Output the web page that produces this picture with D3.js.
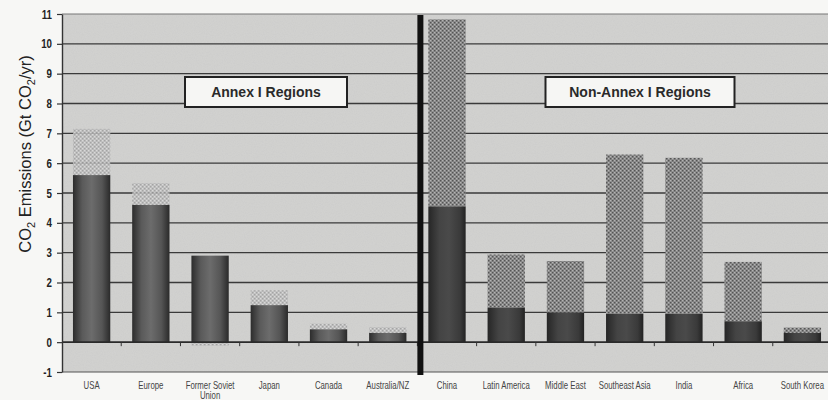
<!DOCTYPE html>
<html>
<head>
<meta charset="utf-8">
<script src="https://cdn.jsdelivr.net/npm/d3@7"></script>
<style>
  html, body { margin: 0; padding: 0; background: #f7f7f5; }
  svg { display: block; }
</style>
</head>
<body>
<svg id="chart" width="828" height="400"></svg>
<script>
// Regions, split into Annex I and Non-Annex I groups
const categories = ["USA", "Europe", "Former Soviet Union", "Japan", "Canada", "Australia/NZ",
  "China", "Latin America", "Middle East", "Southeast Asia", "India", "Africa", "South Korea"];
const annexCount = 6;
// Emissions base (solid dark part), Gt CO2/yr
const baseEmissions = [5.6, 4.6, 2.9, 1.24, 0.43, 0.31, 4.55, 1.16, 0.99, 0.95, 0.95, 0.70, 0.31];
// Projected increase (stippled part), Gt CO2/yr
const increase = [1.55, 0.73, -0.12, 0.5, 0.19, 0.19, 6.27, 1.78, 1.73, 5.34, 5.23, 1.99, 0.18];
const yTicks = [-1, 0, 1, 2, 3, 4, 5, 6, 7, 8, 9, 10, 11];
const groupLabels = ["Annex I Regions", "Non-Annex I Regions"];

const svg = d3.select("#chart");
const plot = { left: 62, right: 828, top: 14, bottom: 372 };

const x = d3.scaleBand().domain(categories).range([plot.left, 832]).paddingInner(0.37).paddingOuter(0.185);
const y = d3.scaleLinear().domain([-1, 11]).range([plot.bottom, plot.top]);

const defs = svg.append("defs");

// paper grain
const grain = defs.append("filter").attr("id", "grain").attr("x", 0).attr("y", 0).attr("width", 1).attr("height", 1);
grain.append("feTurbulence").attr("type", "fractalNoise").attr("baseFrequency", 0.9).attr("numOctaves", 2).attr("seed", 3).attr("result", "n");
grain.append("feColorMatrix").attr("in", "n").attr("type", "matrix")
  .attr("values", "0 0 0 0 0.5  0 0 0 0 0.5  0 0 0 0 0.5  0 0 0 0.28 0").attr("result", "g");
grain.append("feComposite").attr("in", "g").attr("in2", "SourceGraphic").attr("operator", "in").attr("result", "gi");
grain.append("feMerge").call(m => { m.append("feMergeNode").attr("in", "SourceGraphic"); m.append("feMergeNode").attr("in", "gi"); });

// cylinder-like shading for the solid bars
function shade(id, stops) {
  const g = defs.append("linearGradient").attr("id", id).attr("x1", 0).attr("x2", 1).attr("y1", 0).attr("y2", 0);
  stops.forEach(([o, c]) => g.append("stop").attr("offset", o).attr("stop-color", c));
}
shade("solidA", [[0, "#2c2c2c"], [0.25, "#5a5a5a"], [0.5, "#6c6c6c"], [0.78, "#555"], [1, "#2a2a2a"]]);
shade("solidN", [[0, "#262626"], [0.3, "#444"], [0.55, "#4a4a4a"], [0.85, "#3a3a3a"], [1, "#222"]]);

// stipple fills for the increase part
function stipple(id, bg, dark, light) {
  const p = defs.append("pattern").attr("id", id).attr("patternUnits", "userSpaceOnUse").attr("width", 4).attr("height", 4);
  p.append("rect").attr("width", 4).attr("height", 4).attr("fill", bg);
  p.append("rect").attr("x", 0).attr("y", 0).attr("width", 1.3).attr("height", 1.3).attr("fill", dark);
  p.append("rect").attr("x", 2).attr("y", 2).attr("width", 1.3).attr("height", 1.3).attr("fill", dark);
  p.append("rect").attr("x", 2).attr("y", 0).attr("width", 1.2).attr("height", 1.2).attr("fill", light);
  p.append("rect").attr("x", 0).attr("y", 2).attr("width", 1.2).attr("height", 1.2).attr("fill", light);
}
stipple("dotsA", "#bdbdbd", "#9c9c9c", "#dadada");
stipple("dotsN", "#8a8a8a", "#555", "#b4b4b4");

// plot background
svg.append("rect").attr("x", plot.left).attr("y", plot.top)
  .attr("width", plot.right - plot.left).attr("height", plot.bottom - plot.top)
  .attr("fill", "#d3d3d1").attr("filter", "url(#grain)");

// gridlines
svg.append("g").selectAll("line").data(yTicks.filter(t => t > 0 && t < 11)).join("line")
  .attr("x1", plot.left).attr("x2", plot.right)
  .attr("y1", d => y(d)).attr("y2", d => y(d))
  .attr("stroke", "#3a3a3a").attr("stroke-width", 1.4);
svg.append("line").attr("x1", plot.left).attr("x2", plot.right).attr("y1", y(11)).attr("y2", y(11))
  .attr("stroke", "#777").attr("stroke-width", 1);
svg.append("line").attr("x1", plot.left).attr("x2", plot.right).attr("y1", y(-1)).attr("y2", y(-1))
  .attr("stroke", "#555").attr("stroke-width", 1.2);

// bars
const rows = categories.map((c, i) => ({ c, i, base: baseEmissions[i], inc: increase[i], annex: i < annexCount }));
const bars = svg.append("g");
bars.selectAll("rect.inc").data(rows).join("rect").attr("class", "inc")
  .attr("x", d => x(d.c)).attr("width", x.bandwidth())
  .attr("y", d => d.inc >= 0 ? y(d.base + d.inc) : y(0))
  .attr("height", d => Math.abs(y(0) - y(d.inc)))
  .attr("fill", d => d.annex ? "url(#dotsA)" : "url(#dotsN)")
  .attr("opacity", d => d.annex ? 0.85 : 1);
bars.selectAll("rect.base").data(rows).join("rect").attr("class", "base")
  .attr("x", d => x(d.c)).attr("width", x.bandwidth())
  .attr("y", d => y(d.base)).attr("height", d => y(0) - y(d.base))
  .attr("fill", d => d.annex ? "url(#solidA)" : "url(#solidN)");

// zero axis with category ticks
svg.append("line").attr("x1", plot.left).attr("x2", plot.right).attr("y1", y(0)).attr("y2", y(0))
  .attr("stroke", "#2a2a2a").attr("stroke-width", 1.6);
svg.append("g").selectAll("line").data(categories.slice(1)).join("line")
  .attr("x1", d => x(d) - x.step() * x.paddingInner() / 2).attr("x2", d => x(d) - x.step() * x.paddingInner() / 2)
  .attr("y1", y(0)).attr("y2", y(0) + 4)
  .attr("stroke", "#333").attr("stroke-width", 1);

// y axis
const yAxis = svg.append("g").attr("transform", `translate(${plot.left},0)`)
  .call(d3.axisLeft(y).tickValues(yTicks).tickSize(5).tickSizeOuter(0).tickFormat(d => String(d)));
yAxis.select(".domain").attr("stroke", "#333").attr("stroke-width", 1.4);
yAxis.selectAll(".tick line").attr("stroke", "#333").attr("stroke-width", 1.2);
yAxis.selectAll(".tick text").attr("x", 0)
  .attr("transform", "translate(-10,0) scale(0.78,1)")
  .attr("font-family", "'Liberation Sans', Arial, sans-serif")
  .attr("font-weight", "bold").attr("font-size", 12.5).attr("fill", "#222");

// divider between the two groups
const divX = x(categories[annexCount]) - x.step() * x.paddingInner() / 2 + 3;
svg.append("line").attr("x1", divX).attr("x2", divX).attr("y1", y(11) + 1).attr("y2", plot.bottom + 3)
  .attr("stroke", "#111").attr("stroke-width", 6);

// category labels (condensed)
const xl = svg.append("g").selectAll("g").data(categories).join("g")
  .attr("transform", d => `translate(${x(d) + x.bandwidth() / 2},389) scale(0.78,1)`)
  .append("text").attr("text-anchor", "middle")
  .attr("font-family", "'Liberation Sans', Arial, sans-serif")
  .attr("font-size", 10).attr("fill", "#444");
xl.each(function(d) {
  const t = d3.select(this);
  if (d === "Former Soviet Union") {
    t.append("tspan").attr("x", 0).text("Former Soviet");
    t.append("tspan").attr("x", 0).attr("dy", 10).text("Union");
  } else t.text(d);
});

// group label boxes
const boxes = [
  { label: groupLabels[0], cx: 266, w: 162 },
  { label: groupLabels[1], cx: 640, w: 189 }
];
const bg = svg.append("g").selectAll("g").data(boxes).join("g");
bg.append("rect").attr("x", d => d.cx - d.w / 2).attr("y", 77).attr("width", d => d.w).attr("height", 30)
  .attr("fill", "#f6f6f4").attr("stroke", "#222").attr("stroke-width", 2);
bg.append("text").attr("x", d => d.cx).attr("y", 97).attr("text-anchor", "middle")
  .attr("font-family", "'Liberation Sans', Arial, sans-serif").attr("font-weight", "bold")
  .attr("font-size", 14).attr("fill", "#2a2a2a").text(d => d.label);

// y axis title
const yt = svg.append("text").attr("transform", "translate(31,154) rotate(-90)")
  .attr("text-anchor", "middle")
  .attr("font-family", "'Liberation Sans', Arial, sans-serif").attr("font-size", 16.5).attr("fill", "#222");
yt.append("tspan").text("CO");
yt.append("tspan").attr("font-size", 11).attr("dy", 4).text("2");
yt.append("tspan").attr("dy", -4).text(" Emissions (Gt CO");
yt.append("tspan").attr("font-size", 11).attr("dy", 4).text("2");
yt.append("tspan").attr("dy", -4).text("/yr)");
</script>
</body>
</html>
